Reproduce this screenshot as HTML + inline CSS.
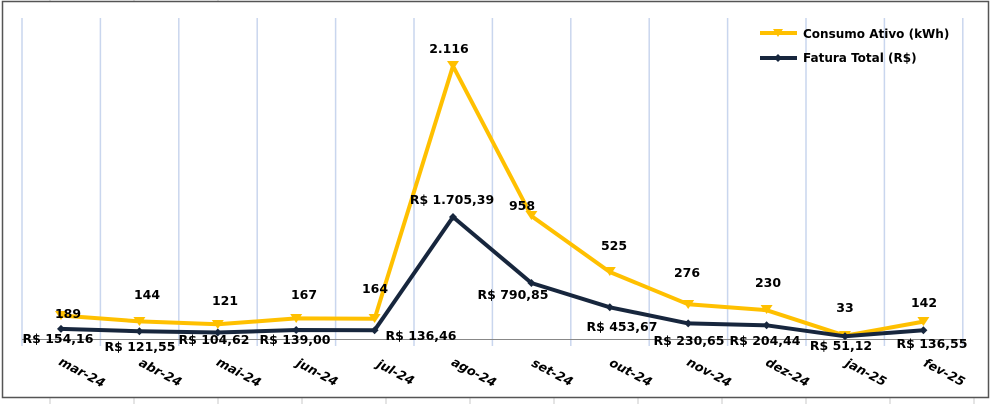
<!DOCTYPE html>
<html><head><meta charset="utf-8"><style>
html,body{margin:0;padding:0;background:#fff;}
svg{display:block;}
text{font-family:"DejaVu Sans","Liberation Sans",sans-serif;font-weight:bold;font-size:12.5px;fill:#000;}
</style></head><body>
<svg width="993" height="404" viewBox="0 0 993 404" xmlns="http://www.w3.org/2000/svg">
<rect x="0" y="0" width="993" height="404" fill="#fff"/>
<g stroke="#c8c8c8" stroke-width="1">
<line x1="50" y1="0" x2="50" y2="2"/><line x1="134" y1="0" x2="134" y2="2"/><line x1="218" y1="0" x2="218" y2="2"/>
<line x1="50" y1="398" x2="50" y2="404"/><line x1="134" y1="398" x2="134" y2="404"/><line x1="218" y1="398" x2="218" y2="404"/><line x1="302" y1="398" x2="302" y2="404"/><line x1="386" y1="398" x2="386" y2="404"/><line x1="470" y1="398" x2="470" y2="404"/><line x1="554" y1="398" x2="554" y2="404"/><line x1="638" y1="398" x2="638" y2="404"/><line x1="722" y1="398" x2="722" y2="404"/><line x1="806" y1="398" x2="806" y2="404"/><line x1="890" y1="398" x2="890" y2="404"/><line x1="974" y1="398" x2="974" y2="404"/>
</g>
<rect x="2.5" y="1.5" width="986" height="396" fill="#fff" stroke="#555" stroke-width="1.5"/>
<g stroke="#c9d6ee" stroke-width="1.5">
<line x1="22" y1="18" x2="22" y2="346"/><line x1="100.4" y1="18" x2="100.4" y2="346"/><line x1="178.8" y1="18" x2="178.8" y2="346"/><line x1="257.2" y1="18" x2="257.2" y2="346"/><line x1="335.6" y1="18" x2="335.6" y2="346"/><line x1="414" y1="18" x2="414" y2="346"/><line x1="492.4" y1="18" x2="492.4" y2="346"/><line x1="570.8" y1="18" x2="570.8" y2="346"/><line x1="649.2" y1="18" x2="649.2" y2="346"/><line x1="727.6" y1="18" x2="727.6" y2="346"/><line x1="806" y1="18" x2="806" y2="346"/><line x1="884.4" y1="18" x2="884.4" y2="346"/><line x1="962.8" y1="18" x2="962.8" y2="346"/>
</g>
<line x1="22" y1="339.5" x2="963" y2="339.5" stroke="#888" stroke-width="1"/>
<polyline fill="none" stroke="#ffc000" stroke-width="4" stroke-linejoin="round" points="61,315.5 139.4,321.4 217.8,324.3 296.2,318.4 374.6,318.8 453,66 531.4,216 609.8,272 688.2,304.3 766.6,310.2 845,335.7 923.4,321.6"/>
<g fill="#ffc000">
<path d="M55,311 h12 l-6,9z"/><path d="M133.4,317 h12 l-6,9z"/><path d="M211.8,320 h12 l-6,9z"/><path d="M290.2,314 h12 l-6,9z"/><path d="M368.6,314 h12 l-6,9z"/><path d="M447,61 h12 l-6,9z"/><path d="M525.4,211 h12 l-6,9z"/><path d="M603.8,267 h12 l-6,9z"/><path d="M682.2,300 h12 l-6,9z"/><path d="M760.6,305 h12 l-6,9z"/><path d="M839,331 h12 l-6,9z"/><path d="M917.4,317 h12 l-6,9z"/>
</g>
<polyline fill="none" stroke="#17263d" stroke-width="4" stroke-linejoin="round" points="61,328.9 139.4,331.2 217.8,332.5 296.2,330 374.6,330.2 453,217 531.4,283 609.8,307.3 688.2,323.4 766.6,325.3 845,336.3 923.4,330.2"/>
<g fill="#17263d">
<path d="M61,324.9 l4,4 -4,4 -4,-4z"/><path d="M139.4,327.2 l4,4 -4,4 -4,-4z"/><path d="M217.8,328.5 l4,4 -4,4 -4,-4z"/><path d="M296.2,326 l4,4 -4,4 -4,-4z"/><path d="M374.6,326.2 l4,4 -4,4 -4,-4z"/><path d="M453,213 l4,4 -4,4 -4,-4z"/><path d="M531.4,279 l4,4 -4,4 -4,-4z"/><path d="M609.8,303.3 l4,4 -4,4 -4,-4z"/><path d="M688.2,319.4 l4,4 -4,4 -4,-4z"/><path d="M766.6,321.3 l4,4 -4,4 -4,-4z"/><path d="M845,332.3 l4,4 -4,4 -4,-4z"/><path d="M923.4,326.2 l4,4 -4,4 -4,-4z"/>
</g>
<g text-anchor="middle" style="font-size:13px">
<text x="68" y="318">189</text><text x="147" y="299">144</text><text x="225" y="305">121</text><text x="304" y="299">167</text><text x="375" y="293">164</text><text x="449" y="53">2.116</text><text x="522" y="210">958</text><text x="614" y="250">525</text><text x="687" y="277">276</text><text x="768" y="287">230</text><text x="845" y="312">33</text><text x="924" y="307">142</text>
<text x="58" y="343">R$ 154,16</text><text x="140" y="351">R$ 121,55</text><text x="214" y="344">R$ 104,62</text><text x="295" y="344">R$ 139,00</text><text x="421" y="340">R$ 136,46</text><text x="452" y="204">R$ 1.705,39</text><text x="513" y="299">R$ 790,85</text><text x="622" y="331">R$ 453,67</text><text x="689" y="345">R$ 230,65</text><text x="765" y="345">R$ 204,44</text><text x="841" y="350">R$ 51,12</text><text x="932" y="348">R$ 136,55</text>
</g>
<g text-anchor="middle" font-style="italic">
<text transform="translate(80,376) rotate(28)">mar-24</text>
<text transform="translate(158.4,376) rotate(28)">abr-24</text>
<text transform="translate(236.8,376) rotate(28)">mai-24</text>
<text transform="translate(315.2,376) rotate(28)">jun-24</text>
<text transform="translate(393.6,376) rotate(28)">jul-24</text>
<text transform="translate(472,376) rotate(28)">ago-24</text>
<text transform="translate(550.4,376) rotate(28)">set-24</text>
<text transform="translate(628.8,376) rotate(28)">out-24</text>
<text transform="translate(707.2,376) rotate(28)">nov-24</text>
<text transform="translate(785.6,376) rotate(28)">dez-24</text>
<text transform="translate(864,376) rotate(28)">jan-25</text>
<text transform="translate(942.4,376) rotate(28)">fev-25</text>
</g>
<line x1="760" y1="33" x2="797" y2="33" stroke="#ffc000" stroke-width="4"/>
<path d="M773,29 h10 l-5,8z" fill="#ffc000"/>
<text x="803" y="38" style="font-size:12px">Consumo Ativo (kWh)</text>
<line x1="760" y1="58" x2="797" y2="58" stroke="#17263d" stroke-width="4"/>
<path d="M778,54 l4,4 -4,4 -4,-4z" fill="#17263d"/>
<text x="803" y="62" style="font-size:12px">Fatura Total (R$)</text>
</svg>
</body></html>
